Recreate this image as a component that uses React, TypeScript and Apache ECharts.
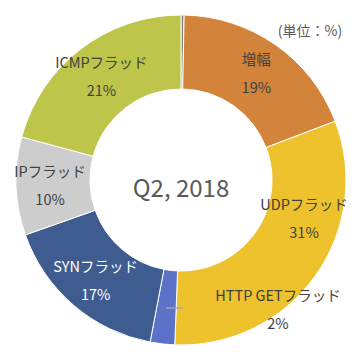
import React, { useEffect, useRef } from "react";
import * as echarts from "echarts";

const categories = ["その他", "増幅", "UDPフラッド", "HTTP GETフラッド", "SYNフラッド", "IPフラッド", "ICMPフラッド"];
const values = [0.3, 18.9, 31.4, 2.4, 16.6, 9.6, 20.8];
const colors = ["#7F7F7F", "#D4843A", "#EDC22D", "#5B72C8", "#3E5C90", "#CDCDCD", "#BDC64A"];
const labelColors = ["#404040", "#404040", "#404040", "#404040", "#FFFFFF", "#404040", "#404040"];
const centerTitle = "Q2, 2018";
const unitText = "(単位：%)";

const FONT = "'Noto Sans CJK JP', 'Noto Sans', sans-serif";

export default function App() {
  const ref = useRef<HTMLDivElement>(null);
  useEffect(() => {
    if (!ref.current) return;
    const chart = echarts.init(ref.current, undefined, { renderer: "svg" });
    const data = categories.map((name, i) => ({
      name,
      value: values[i],
      itemStyle: { color: colors[i] },
      label: { show: i !== 0, color: labelColors[i] },
    }));
    chart.setOption({
      animation: false,
      backgroundColor: "#ffffff",
      graphic: [
        {
          type: "text",
          x: 181,
          y: 186,
          z: 10,
          style: {
            text: centerTitle,
            fontSize: 24,
            fontFamily: FONT,
            fill: "#595959",
            align: "center",
            verticalAlign: "middle",
          },
        },
        {
          type: "text",
          x: 310,
          y: 30,
          z: 10,
          style: {
            text: unitText,
            fontSize: 14,
            fontFamily: FONT,
            fill: "#595959",
            align: "center",
            verticalAlign: "middle",
          },
        },
        {
          type: "line",
          z: 10,
          shape: { x1: 166, y1: 308, x2: 183, y2: 308 },
          style: { stroke: "#A6A6A6", lineWidth: 1.5 },
        },
      ],
      series: [
        {
          type: "pie",
          center: [181, 180],
          radius: [91, 165],
          startAngle: 90,
          clockwise: true,
          avoidLabelOverlap: false,
          itemStyle: { borderColor: "#ffffff", borderWidth: 1 },
          label: {
            position: "inside",
            fontSize: 14.5,
            fontFamily: FONT,
            lineHeight: 28,
            align: "center",
            formatter: (p: any) => `${p.name}\n${Math.round(p.value)}%`,
          },
          labelLine: { show: false },
          labelLayout: (params: any) => {
            if (params.dataIndex === 2) {
              return { x: 304, y: 217, align: "center", verticalAlign: "middle" };
            }
            if (params.dataIndex === 3) {
              return { x: 278, y: 308, align: "center", verticalAlign: "middle" };
            }
            return {};
          },
          data,
        },
      ],
    });
    return () => chart.dispose();
  }, []);
  return (
    <div
      ref={ref}
      style={{ position: "fixed", left: 0, top: 0, width: 360, height: 359 }}
    />
  );
}
